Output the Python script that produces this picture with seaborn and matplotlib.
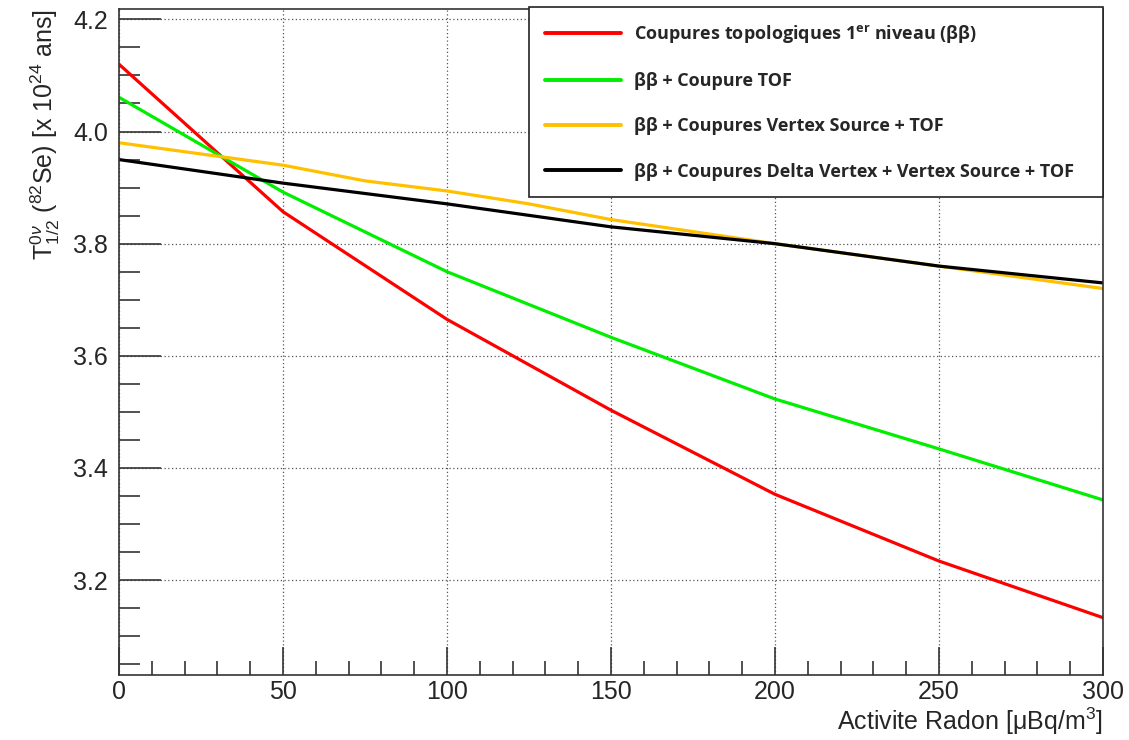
import matplotlib
matplotlib.use("Agg")
import matplotlib.pyplot as plt
import seaborn as sns
import pandas as pd
from matplotlib.ticker import MultipleLocator

# values
x_main = [0, 50, 100, 150, 200, 250, 300]
red_vals = [4.12, 3.857, 3.665, 3.503, 3.353, 3.234, 3.133]
green_vals = [4.061, 3.892, 3.75, 3.633, 3.523, 3.434, 3.343]
x_orange = [0, 50, 75, 100, 125, 150, 200, 250, 300]
orange_vals = [3.98, 3.94, 3.912, 3.894, 3.871, 3.843, 3.80, 3.76, 3.72]
black_vals = [3.95, 3.908, 3.871, 3.83, 3.80, 3.76, 3.73]

labels = [
    r"Coupures topologiques 1$^{\mathbf{er}}$ niveau (ββ)",
    "ββ + Coupure TOF",
    "ββ + Coupures Vertex Source + TOF",
    "ββ + Coupures Delta Vertex + Vertex Source + TOF",
]
colors = ["#ff0000", "#00ee00", "#ffc000", "#000000"]

frames = [
    pd.DataFrame({"x": x_main, "y": red_vals, "serie": labels[0]}),
    pd.DataFrame({"x": x_main, "y": green_vals, "serie": labels[1]}),
    pd.DataFrame({"x": x_orange, "y": orange_vals, "serie": labels[2]}),
    pd.DataFrame({"x": x_main, "y": black_vals, "serie": labels[3]}),
]
df = pd.concat(frames, ignore_index=True)

sns.set_style("ticks")
plt.rcParams["font.family"] = ["Liberation Sans", "DejaVu Sans"]
plt.rcParams["mathtext.fontset"] = "custom"
plt.rcParams["mathtext.rm"] = "Liberation Sans"
plt.rcParams["mathtext.it"] = "Liberation Sans:italic"
plt.rcParams["mathtext.bf"] = "Open Sans:bold"

fig = plt.figure(figsize=(11.29, 7.40), dpi=100)
ax = fig.add_axes([0.1054, 0.088, 0.8716, 0.9002])

sns.lineplot(data=df, x="x", y="y", hue="serie", hue_order=labels,
             palette=colors, linewidth=2.3, sort=False, ax=ax, legend=False)

ax.set_xlim(0, 300)
ax.set_ylim(3.031, 4.219)
ax.xaxis.set_major_locator(MultipleLocator(50))
ax.xaxis.set_minor_locator(MultipleLocator(10))
ax.yaxis.set_major_locator(MultipleLocator(0.2))
ax.yaxis.set_minor_locator(MultipleLocator(0.05))
ax.yaxis.set_major_formatter(matplotlib.ticker.FormatStrFormatter("%.1f"))
ax.tick_params(axis="both", which="both", direction="in", labelsize=18,
               top=False, right=False, width=1.2, color="#333333")
ax.tick_params(axis="x", which="major", length=20, pad=4)
ax.tick_params(axis="x", which="minor", length=10)
ax.tick_params(axis="y", which="major", length=30, pad=8)
ax.tick_params(axis="y", which="minor", length=15)
ax.grid(True, which="major", linestyle=(0, (1, 2)), color="#555555", linewidth=0.9)
for s in ax.spines.values():
    s.set_linewidth(1.2)
    s.set_color("#333333")

ax.set_xlabel(r"Activite Radon [$\mathregular{\mu}$Bq/m$^{3}$]", fontsize=18,
              loc="right", labelpad=1)
ax.set_ylabel(r"T$^{0\nu}_{1/2}$ ($^{82}$Se) [x 10$^{24}$ ans]", fontsize=18,
              loc="top", labelpad=8)

handles = [plt.Line2D([], [], color=c, linewidth=2.8) for c in colors]
leg = fig.legend(handles, labels, loc="upper left",
                 bbox_to_anchor=(0.4686, 0.7, 0.5084, 0.2905), mode="expand",
                 borderaxespad=0, frameon=True, fancybox=False,
                 edgecolor="#222222", framealpha=1, handlelength=4.2,
                 labelspacing=1.5, borderpad=0.9, handletextpad=0.72,
                 prop={"family": ["Open Sans", "DejaVu Sans"], "weight": "bold", "size": 13})
leg.get_frame().set_linewidth(1.2)

plt.savefig("out.png", dpi=100)
